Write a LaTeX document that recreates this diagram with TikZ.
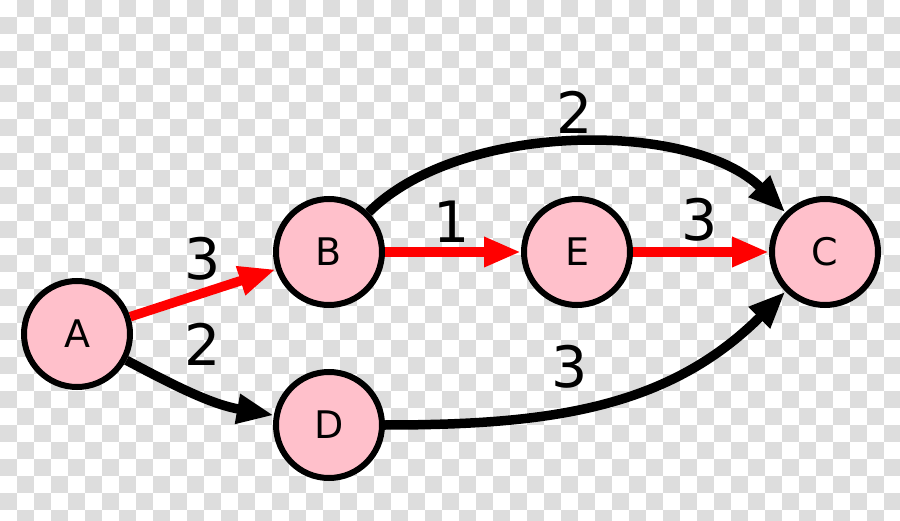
\documentclass[tikz,border=0pt]{standalone}
\usepackage{fontspec}
\setmainfont{DejaVu Sans}
\usetikzlibrary{arrows.meta}

\definecolor{nodepink}{RGB}{255,192,203}
\definecolor{checkgray}{RGB}{221,221,221}

\tikzset{
  vertex/.style={circle, draw=black, fill=nodepink, line width=6pt,
    minimum size=106pt, inner sep=0pt, font=\fontsize{38}{38}\selectfont},
  edge/.style={line width=9.5pt, -{Triangle[length=37pt,width=28pt]}},
  shortest/.style={edge, red},
  weight/.style={inner sep=0pt, font=\fontsize{57}{57}\selectfont}
}

\begin{document}
\begin{tikzpicture}[x=1pt,y=1pt]
  \useasboundingbox (0,0) rectangle (900,520);

  % checkerboard
  \begin{scope}
    \clip (0,0) rectangle (900,520);
    \fill[white] (0,0) rectangle (900,520);
    \foreach \j [evaluate=\j as \xo using {17*mod(\j+1,2)}] in {0,...,30}
      \foreach \i in {0,...,26}
        \fill[checkgray] ({\xo+34*\i},{503-17*\j}) rectangle ++(17,17);
  \end{scope}

  % vertices
  \node[vertex] (A) at (77,186) {A};
  \node[vertex] (B) at (329,268) {B};
  \node[vertex] (E) at (577,268) {E};
  \node[vertex] (C) at (825,268) {C};
  \node[vertex] (D) at (329,95) {D};

  % edges
  \draw[shortest] (A) -- (B);
  \draw[shortest] (B) -- (E);
  \draw[shortest] (E) -- (C);
  \draw[edge] (A) to[out=-28,in=170] (D);
  \draw[edge] (B) to[out=45,in=135,looseness=0.8] (C);
  \draw[edge] (D) to[out=0,in=225] (C);

  % weights
  \node[weight] (wAB) at (203,261) {3};
  \node[weight] (wAD) at (203,176) {2};
  \node[weight] (wBE) at (452,298) {1};
  \node[weight] (wEC) at (700,300) {3};
  \node[weight] (wBC) at (575,408) {2};
  \node[weight] (wDC) at (570,153) {3};
\end{tikzpicture}
\end{document}
